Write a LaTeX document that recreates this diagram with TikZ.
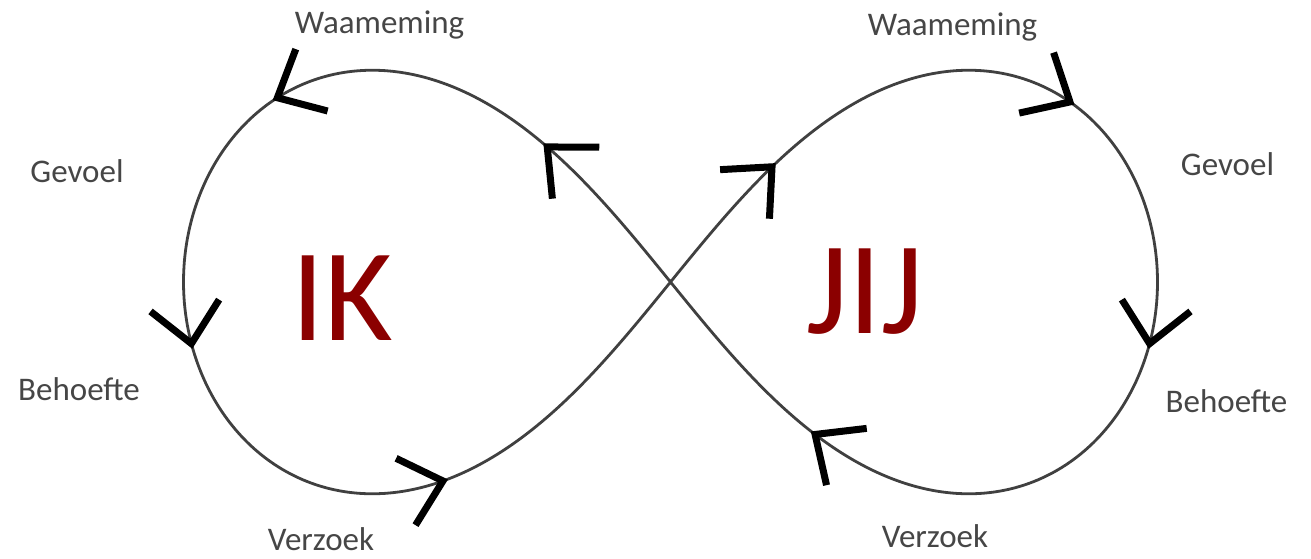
\documentclass[tikz,border=0pt]{standalone}
\usepackage{fontspec}
\setmainfont{Carlito}
\usetikzlibrary{calc}
\definecolor{ikred}{RGB}{139,0,0}
\definecolor{lbl}{RGB}{70,70,70}
\newcommand\lempt[2]{\coordinate (#1) at ({670.5+487*cos(#2)/(1+pow(sin(#2),2))},{282+599*sin(#2)*cos(#2)/(1+pow(sin(#2),2))});}
\newcommand\barbat[2]{\lempt{#1}{#2}\lempt{#1b}{#2-4}\draw[barb] ($(#1)!52pt!42:(#1b)$) -- (#1) -- ($(#1)!52pt!-42:(#1b)$);}
\begin{document}
\begin{tikzpicture}[x=1pt,y=-1pt,
  curve/.style={line width=2.8pt, draw=black!75},
  barb/.style={line width=7pt, black, line join=miter},
  lab/.style={font=\fontsize{33}{40}\selectfont, text=lbl, anchor=base, inner sep=0pt},
  big/.style={font=\fontsize{132}{150}\selectfont, text=ikred, anchor=base, inner sep=0pt}]
\useasboundingbox (0,0) rectangle (1311,558);
\draw[curve] plot[domain=0:360, samples=721] ({670.5+487*cos(\x)/(1+pow(sin(\x),2))},{282+599*sin(\x)*cos(\x)/(1+pow(sin(\x),2))}) -- cycle;
\barbat{a1}{117}
\barbat{a2}{157.6}
\barbat{a3}{186}
\barbat{a4}{225.3}
\barbat{a5}{292.7}
\barbat{a6}{338.5}
\barbat{a7}{6}
\barbat{a8}{59}
\node[lab] (wl) at (379.5,33) {Waameming};
\node[lab] (wr) at (952.5,35) {Waameming};
\node[lab] (gl) at (77,182) {Gevoel};
\node[lab] (gr) at (1227.5,175) {Gevoel};
\node[lab] (bl) at (79,400) {Behoefte};
\node[lab] (br) at (1226.5,412) {Behoefte};
\node[lab] (vl) at (321,550) {Verzoek};
\node[lab] (vr) at (935,547) {Verzoek};
\node[big] (ik) at (342.5,340) {IK};
\node[big] (jij) at (865,333) {JIJ};
\end{tikzpicture}
\end{document}
